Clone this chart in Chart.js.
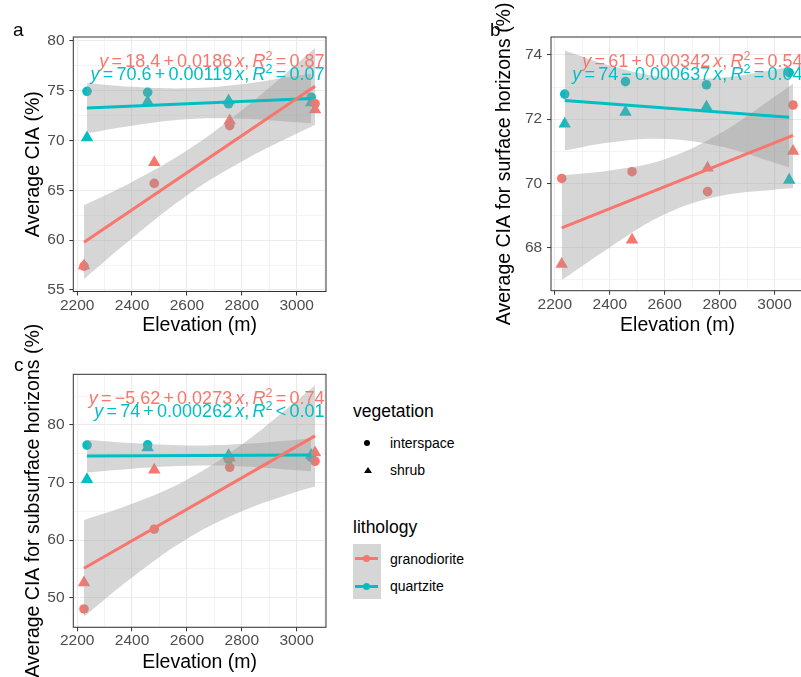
<!DOCTYPE html>
<html>
<head>
<meta charset="utf-8">
<script src="https://cdn.jsdelivr.net/npm/chart.js@4.4.1/dist/chart.umd.min.js"></script>
<style>
  html, body { margin: 0; padding: 0; background: #fff; overflow: hidden; }
  body { width: 801px; height: 677px; position: relative; font-family: "Liberation Sans", Arial, sans-serif; }
  canvas { position: absolute; }
  .t { position: absolute; line-height: 1; white-space: nowrap; color: #000; }
  .k { position: absolute; }
</style>
</head>
<body>
<canvas id="ca" width="345" height="340" style="left:0;top:0"></canvas>
<canvas id="cb" width="345" height="340" style="left:478px;top:0"></canvas>
<canvas id="cc" width="345" height="359" style="left:0;top:318px"></canvas>

<!-- legend -->
<div class="t" style="left:353px;top:402.5px;font-size:17.5px">vegetation</div>
<div class="k" style="left:364px;top:440px;width:6px;height:6px;border-radius:50%;background:#000"></div>
<div class="t" style="left:390px;top:435.9px;font-size:14px">interspace</div>
<div class="k" style="left:363.5px;top:466.8px;width:0;height:0;border-left:4px solid transparent;border-right:4px solid transparent;border-bottom:6.5px solid #000"></div>
<div class="t" style="left:390px;top:463.2px;font-size:14px">shrub</div>

<div class="t" style="left:353px;top:519.2px;font-size:17.5px">lithology</div>
<div class="k" style="left:352.7px;top:544.3px;width:28px;height:27.5px;background:#D6D6D6"></div>
<div class="k" style="left:352.7px;top:571.8px;width:28px;height:27.5px;background:#D6D6D6"></div>
<div class="k" style="left:355px;top:556.7px;width:23.3px;height:3.3px;background:#F8766D"></div>
<div class="k" style="left:363.2px;top:554.8px;width:7px;height:7px;border-radius:50%;background:#F8766D"></div>
<div class="k" style="left:355px;top:585px;width:23.3px;height:3.3px;background:#00BFC4"></div>
<div class="k" style="left:363.2px;top:583.2px;width:7px;height:7px;border-radius:50%;background:#00BFC4"></div>
<div class="t" style="left:390px;top:551.5px;font-size:14px">granodiorite</div>
<div class="t" style="left:390px;top:578.9px;font-size:14px">quartzite</div>

<script>
// elevation of the sampled sites (m)
var granX = [2225, 2481, 2756, 3067];
var quarX = [2236, 2457, 2752, 3053];

// x positions where the confidence bands were read
var granBandX = [2225, 2400, 2600, 2800, 3000, 3067];
var quarBandX = [2236, 2400, 2600, 2800, 3000, 3053];

// ticks
var xMajor = [2200, 2400, 2600, 2800, 3000];
var xMinor = [2300, 2500, 2700, 2900, 3100];

// panel a - average CIA
var aGranInter = [57.4, 65.7, 71.5, 73.7];
var aGranShrub = [57.45, 67.8, 72.0, 73.1];
var aQuarInter = [74.95, 74.85, 73.7, 74.35];
var aQuarShrub = [70.3, 73.9, 74.0, 73.8];
var aGranFit = [59.8, 75.45];
var aQuarFit = [73.26, 74.23];
var aGranHi = [63.5, 65.85, 69.0, 73.05, 77.7, 79.3];
var aGranLo = [56.1, 60.2, 64.5, 67.9, 70.7, 71.6];
var aQuarHi = [75.75, 75.4, 75.25, 75.65, 76.5, 76.7];
var aQuarLo = [70.75, 71.5, 72.15, 72.2, 71.85, 71.75];
var aYMajor = [55, 60, 65, 70, 75, 80];
var aYMinor = [57.5, 62.5, 67.5, 72.5, 77.5];

// panel b - surface horizons
var bGranInter = [70.15, 70.36, 69.74, 72.44];
var bGranShrub = [67.48, 68.23, 70.48, 71.0];
var bQuarInter = [72.78, 73.17, 73.07, 73.45];
var bQuarShrub = [71.85, 72.22, 72.38, 70.1];
var bGranFit = [68.61, 71.49];
var bQuarFit = [72.58, 72.06];
var bGranHi = [70.25, 70.4, 70.75, 71.55, 72.7, 73.1];
var bGranLo = [66.98, 68.0, 69.03, 69.6, 69.8, 69.85];
var bQuarHi = [74.14, 73.67, 73.3, 73.29, 73.54, 73.63];
var bQuarLo = [71.02, 71.27, 71.38, 71.15, 70.64, 70.49];
var bYMajor = [68, 70, 72, 74];
var bYMinor = [67, 69, 71, 73];

// panel c - subsurface horizons
var cGranInter = [48.05, 61.9, 72.65, 73.7];
var cGranShrub = [52.6, 72.2, 74.3, 75.2];
var cQuarInter = [76.5, 76.55, 74.05, 74.4];
var cQuarShrub = [70.55, 76.07, 74.7, 74.75];
var cGranFit = [55.12, 78.11];
var cQuarFit = [74.59, 74.8];
var cGranHi = [63.5, 66.3, 70.5, 76.6, 84.2, 86.9];
var cGranLo = [46.7, 53.5, 60.2, 65.0, 68.4, 69.3];
var cQuarHi = [77.45, 76.85, 76.45, 76.7, 77.45, 77.65];
var cQuarLo = [71.75, 72.4, 72.9, 72.8, 72.15, 71.95];
var cYMajor = [50, 60, 70, 80];
var cYMinor = [45, 55, 65, 75, 85];

var RED = '#F8766D', TEAL = '#00BFC4', BAND = 'rgba(153,153,153,0.4)';
var FAM = '"Liberation Sans", Arial, sans-serif';
var GAP = 3.2;

function pts(xs, ys) {
  return xs.map(function (x, i) { return { x: x, y: ys[i] }; });
}

// equation label pieces, plotmath style ('g' = small gap)
function eqParts(b0, op, b1, rel, r2) {
  return [['y', 'i'], ['', 'g'], ['=', ''], ['', 'g'], [b0, ''], ['', 'g'], [op, ''], ['', 'g'],
          [b1, ''], ['', 'g'], ['x', 'i'], [',', ''], ['', 'g'], ['R', 'i'], ['2', 's'],
          ['', 'g'], [rel, ''], ['', 'g'], [r2, '']];
}

function eqFont(s) {
  if (s === 'i') return 'italic 18px ' + FAM;
  if (s === 's') return '12.6px ' + FAM;
  return '18px ' + FAM;
}

function partW(c, p) {
  if (p[1] === 'g') return GAP;
  c.font = eqFont(p[1]);
  return c.measureText(p[0]).width;
}

function drawEq(c, parts, right, base, color) {
  var w = 0;
  parts.forEach(function (p) { w += partW(c, p); });
  var x = right - w;
  c.fillStyle = color;
  c.textBaseline = 'alphabetic';
  parts.forEach(function (p) {
    if (p[1] !== 'g') {
      c.font = eqFont(p[1]);
      c.fillText(p[0], x, p[1] === 's' ? base - 7.5 : base);
    }
    x += partW(c, p);
  });
}

// panel border, equations and the panel letter
var frame = {
  id: 'frame',
  afterDraw: function (chart, args, o) {
    var c = chart.ctx, a = chart.chartArea;
    c.save();
    c.strokeStyle = '#333333';
    c.lineWidth = 1;
    c.strokeRect(a.left, a.top, a.right - a.left, a.bottom - a.top);
    c.beginPath();
    c.rect(a.left, a.top, a.right - a.left, a.bottom - a.top);
    c.clip();
    drawEq(c, o.eqRed, a.right - 1.5, a.top + 30, RED);
    drawEq(c, o.eqTeal, a.right - 1.5, a.top + 43, TEAL);
    c.restore();
    c.save();
    c.font = '19px ' + FAM;
    c.fillStyle = '#000';
    c.fillText(o.tag, o.tagX, o.tagY);
    c.restore();
  }
};

function panel(id, p) {
  var yTicks = p.yMajor.concat(p.yMinor).sort(function (a, b) { return a - b; });
  var xTicks = xMajor.concat(xMinor).sort(function (a, b) { return a - b; });

  function fitLine(xs, ys, col) {
    return { data: pts([xs[0], xs[xs.length - 1]], ys), borderColor: col, borderWidth: 3,
             pointRadius: 0, fill: false, tension: 0, order: 0 };
  }
  function band(xs, ys, fill) {
    return { data: pts(xs, ys), borderColor: 'rgba(0,0,0,0)', borderWidth: 0, pointRadius: 0,
             backgroundColor: BAND, fill: fill, tension: 0.4, order: 1 };
  }
  function dots(xs, ys, col, style, r) {
    return { data: pts(xs, ys), showLine: false, pointStyle: style, pointRadius: r,
             pointHoverRadius: r, pointBackgroundColor: col, pointBorderColor: col,
             pointBorderWidth: 0, order: 2 };
  }

  var tickFont = { family: FAM, size: 15.5, lineHeight: 1.2 };
  var titleFont = { family: FAM, size: 19.5, lineHeight: 1.2 };

  return new Chart(document.getElementById(id), {
    type: 'line',
    data: {
      datasets: [
        fitLine(granX, p.granFit, RED),
        fitLine(quarX, p.quarFit, TEAL),
        band(granBandX, p.granHi, '+1'),
        band(granBandX, p.granLo, false),
        band(quarBandX, p.quarHi, '+1'),
        band(quarBandX, p.quarLo, false),
        dots(granX, p.granInter, RED, 'circle', 4.8),
        dots(granX, p.granShrub, RED, 'triangle', 7.2),
        dots(quarX, p.quarInter, TEAL, 'circle', 4.8),
        dots(quarX, p.quarShrub, TEAL, 'triangle', 7.2)
      ]
    },
    options: {
      responsive: false,
      animation: false,
      events: [],
      layout: { padding: { left: 0, top: p.top, right: p.right, bottom: 0 } },
      plugins: {
        legend: { display: false },
        tooltip: { enabled: false },
        frame: { eqRed: p.eqRed, eqTeal: p.eqTeal, tag: p.tag, tagX: p.tagX, tagY: p.tagY }
      },
      scales: {
        x: {
          type: 'linear', min: 2186, max: 3107,
          afterBuildTicks: function (s) { s.ticks = xTicks.map(function (v) { return { value: v }; }); },
          afterFit: function (s) { s.height = p.xH; },
          border: { display: false },
          grid: {
            color: '#EBEBEB',
            lineWidth: function (c) { return xMajor.indexOf(c.tick.value) >= 0 ? 1.1 : 0.55; },
            tickLength: 4,
            tickColor: function (c) { return xMajor.indexOf(c.tick.value) >= 0 ? '#333333' : 'rgba(0,0,0,0)'; },
            tickWidth: 1
          },
          ticks: {
            autoSkip: false, maxRotation: 0, padding: 0.6, color: '#4D4D4D', font: tickFont,
            callback: function (v) { return xMajor.indexOf(v) >= 0 ? String(v) : ''; }
          },
          title: { display: true, text: 'Elevation (m)', color: '#000', font: titleFont,
                   padding: { top: 0, bottom: p.xTitlePad } }
        },
        y: {
          type: 'linear', min: p.yMin, max: p.yMax,
          afterBuildTicks: function (s) { s.ticks = yTicks.map(function (v) { return { value: v }; }); },
          afterFit: function (s) { s.width = p.yW; },
          border: { display: false },
          grid: {
            color: '#EBEBEB',
            lineWidth: function (c) { return p.yMajor.indexOf(c.tick.value) >= 0 ? 1.1 : 0.55; },
            tickLength: 4,
            tickColor: function (c) { return p.yMajor.indexOf(c.tick.value) >= 0 ? '#333333' : 'rgba(0,0,0,0)'; },
            tickWidth: 1
          },
          ticks: {
            autoSkip: false, padding: 4.8, color: '#4D4D4D', font: tickFont,
            callback: function (v) { return p.yMajor.indexOf(v) >= 0 ? String(v) : ''; }
          },
          title: { display: true, text: p.yTitle, color: '#000', font: titleFont,
                   padding: { top: p.yTitlePad, bottom: 0 } }
        }
      }
    },
    plugins: [frame]
  });
}

panel('ca', {
  granInter: aGranInter, granShrub: aGranShrub, quarInter: aQuarInter, quarShrub: aQuarShrub,
  granFit: aGranFit, quarFit: aQuarFit,
  granHi: aGranHi, granLo: aGranLo, quarHi: aQuarHi, quarLo: aQuarLo,
  yMajor: aYMajor, yMinor: aYMinor, yMin: 54.85, yMax: 80.4,
  yTitle: 'Average CIA (%)',
  eqRed: eqParts('18.4', '+', '0.0186', '=', '0.87'),
  eqTeal: eqParts('70.6', '+', '0.00119', '=', '0.07'),
  tag: 'a', tagX: 13, tagY: 36,
  top: 37, right: 19, yW: 73.3, xH: 48.5, yTitlePad: 21.6, xTitlePad: 2.3
});

panel('cb', {
  granInter: bGranInter, granShrub: bGranShrub, quarInter: bQuarInter, quarShrub: bQuarShrub,
  granFit: bGranFit, quarFit: bQuarFit,
  granHi: bGranHi, granLo: bGranLo, quarHi: bQuarHi, quarLo: bQuarLo,
  yMajor: bYMajor, yMinor: bYMinor, yMin: 66.65, yMax: 74.56,
  yTitle: 'Average CIA for surface horizons (%)',
  eqRed: eqParts('61', '+', '0.00342', '=', '0.54'),
  eqTeal: eqParts('74', '\u2212', '0.000637', '=', '0.04'),
  tag: 'b', tagX: 12, tagY: 36,
  top: 37, right: 19, yW: 73, xH: 49.3, yTitlePad: 15.3, xTitlePad: 2.6
});

panel('cc', {
  granInter: cGranInter, granShrub: cGranShrub, quarInter: cQuarInter, quarShrub: cQuarShrub,
  granFit: cGranFit, quarFit: cQuarFit,
  granHi: cGranHi, granLo: cGranLo, quarHi: cQuarHi, quarLo: cQuarLo,
  yMajor: cYMajor, yMinor: cYMinor, yMin: 44.86, yMax: 88.8,
  yTitle: 'Average CIA for subsurface horizons (%)',
  eqRed: eqParts('\u22125.62', '+', '0.0273', '=', '0.74'),
  eqTeal: eqParts('74', '+', '0.000262', '<', '0.01'),
  tag: 'c', tagX: 14, tagY: 53,
  top: 56.3, right: 19, yW: 73.3, xH: 49.7, yTitlePad: 21.6, xTitlePad: 3.0
});
</script>
</body>
</html>
